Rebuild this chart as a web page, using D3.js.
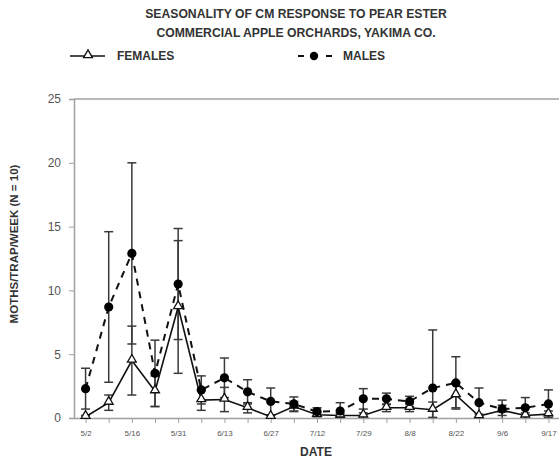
<!DOCTYPE html>
<html><head><meta charset="utf-8">
<script src="https://cdn.jsdelivr.net/npm/d3@7"></script>
<style>
html,body{margin:0;padding:0;background:#fff;}
svg{display:block;font-family:"Liberation Sans",Arial,sans-serif;}
</style></head>
<body>
<svg id="chart" width="559" height="464"></svg>
<script>
const titleLines = ["SEASONALITY OF CM RESPONSE TO PEAR ESTER", "COMMERCIAL APPLE ORCHARDS, YAKIMA CO."];
const tickLabels = ["5/2","","5/16","","5/31","","6/13","","6/27","","7/12","","7/29","","8/8","","8/22","","9/6","","9/17"];
const males      = [2.3, 8.7, 12.9, 3.5, 10.5, 2.2, 3.15, 2.05, 1.3, 1.1, 0.5, 0.55, 1.5, 1.5, 1.3, 2.35, 2.75, 1.2, 0.7, 0.8, 1.1];
const malesErr   = [1.6, 5.9, 7.1, 2.6, 4.35, 1.1, 1.55, 0.95, 1.05, 0.55, 0.3, 0.65, 0.8, 0.45, 0.4, 4.55, 2.05, 1.15, 0.7, 0.8, 1.1];
const females    = [0.1, 1.2, 4.5, 2.1, 8.7, 1.4, 1.45, 0.8, 0.1, 0.9, 0.25, 0.2, 0.2, 0.8, 0.8, 0.65, 1.8, 0.15, 0.6, 0.2, 0.3];
const femalesErr = [0.1, 0.6, 2.7, 1.2, 5.2, 0.8, 0.95, 0.4, 0.1, 0.4, 0.15, 0.15, 0.2, 0.3, 0.3, 0.6, 1.0, 0.15, 0.4, 0.2, 0.25];
const yTicks = [0, 5, 10, 15, 20, 25];

(function () {
const svg = d3.select("#chart");
const pL = 74, pR = 560, pT = 99, pB = 418;
const idx = tickLabels.map((d, i) => i);
const x = d3.scalePoint().domain(idx).range([pL, pR]).padding(0.5);
const y = d3.scaleLinear().domain([0, 25]).range([pB, pT]);
const axisCol = "#a0a0a0";
const txtCol = "#555";

svg.selectAll("text.title").data(titleLines).join("text")
  .attr("class", "title")
  .attr("x", 296).attr("y", (d, i) => 18 + i * 19)
  .attr("text-anchor", "middle")
  .attr("font-size", 12.2).attr("font-weight", "bold").attr("fill", "#333")
  .text(d => d);

svg.append("line").attr("x1", pL).attr("x2", pR).attr("y1", pT).attr("y2", pT)
  .attr("stroke", axisCol).attr("stroke-width", 1.5);

const yAxis = svg.append("g").attr("transform", `translate(${pL},0)`)
  .call(d3.axisLeft(y).tickValues(yTicks).tickSize(5).tickPadding(8));
yAxis.select(".domain").attr("stroke", axisCol).attr("stroke-width", 1.5);
yAxis.selectAll(".tick line").attr("stroke", axisCol);
yAxis.selectAll(".tick text").attr("font-size", 12).attr("fill", txtCol)
  .attr("font-family", "'Liberation Sans',Arial,sans-serif");

const xAxis = svg.append("g").attr("transform", `translate(0,${pB})`)
  .call(d3.axisBottom(x).tickFormat(i => tickLabels[i]).tickSize(5).tickPadding(7).tickSizeOuter(0));
xAxis.select(".domain").attr("stroke", axisCol).attr("stroke-width", 1.5);
xAxis.selectAll(".tick line").attr("stroke", axisCol);
xAxis.selectAll(".tick text").attr("font-size", 8).attr("fill", txtCol)
  .attr("font-family", "'Liberation Sans',Arial,sans-serif");

svg.append("text").attr("x", 316).attr("y", 456).attr("text-anchor", "middle")
  .attr("font-size", 12).attr("font-weight", "bold").attr("fill", "#333").text("DATE");
svg.append("text").attr("transform", "translate(18,244) rotate(-90)").attr("text-anchor", "middle")
  .attr("font-size", 11.5).attr("font-weight", "bold").attr("fill", "#333").text("MOTHS/TRAP/WEEK (N = 10)");

function errBars(vals, errs, cls) {
  const g = svg.append("g").attr("class", cls).attr("stroke", "#3a3a3a").attr("stroke-width", 1.5);
  vals.forEach((v, i) => {
    const hi = y(v + errs[i]), lo = y(Math.max(0, v - errs[i])), cx = x(i);
    g.append("line").attr("x1", cx).attr("x2", cx).attr("y1", hi).attr("y2", lo);
    g.append("line").attr("x1", cx - 4.5).attr("x2", cx + 4.5).attr("y1", hi).attr("y2", hi);
    if (v - errs[i] > 0) g.append("line").attr("x1", cx - 4.5).attr("x2", cx + 4.5).attr("y1", lo).attr("y2", lo);
  });
}
errBars(males, malesErr, "merr");
errBars(females, femalesErr, "ferr");

const line = d3.line().x((d, i) => x(i)).y(d => y(d));
svg.append("path").datum(females).attr("d", line).attr("fill", "none")
  .attr("stroke", "#111").attr("stroke-width", 1.6);
svg.append("path").datum(males).attr("d", line).attr("fill", "none")
  .attr("stroke", "#111").attr("stroke-width", 2).attr("stroke-dasharray", "7,6");

const tri = d3.symbol().type(d3.symbolTriangle).size(34);
svg.selectAll("path.ftri").data(females).join("path").attr("class", "ftri")
  .attr("d", tri).attr("transform", (d, i) => `translate(${x(i)},${y(d) - 1})`)
  .attr("fill", "#fff").attr("stroke", "#111").attr("stroke-width", 1.3);
svg.selectAll("circle.mdot").data(males).join("circle").attr("class", "mdot")
  .attr("cx", (d, i) => x(i)).attr("cy", d => y(d)).attr("r", 4.6).attr("fill", "#000");

const lg = svg.append("g");
lg.append("line").attr("x1", 70).attr("x2", 105).attr("y1", 56).attr("y2", 56).attr("stroke", "#111").attr("stroke-width", 1.5);
lg.append("path").attr("d", tri).attr("transform", "translate(88,55)").attr("fill", "#fff").attr("stroke", "#111").attr("stroke-width", 1.3);
lg.append("text").attr("x", 117).attr("y", 60).attr("font-size", 12).attr("font-weight", "bold").attr("fill", "#333").text("FEMALES");
lg.append("line").attr("x1", 298).attr("x2", 304).attr("y1", 56).attr("y2", 56).attr("stroke", "#111").attr("stroke-width", 2);
lg.append("line").attr("x1", 326).attr("x2", 332).attr("y1", 56).attr("y2", 56).attr("stroke", "#111").attr("stroke-width", 2);
lg.append("circle").attr("cx", 314).attr("cy", 56).attr("r", 4.2).attr("fill", "#000");
lg.append("text").attr("x", 343).attr("y", 60).attr("font-size", 12).attr("font-weight", "bold").attr("fill", "#333").text("MALES");
})();
</script>
</body></html>
